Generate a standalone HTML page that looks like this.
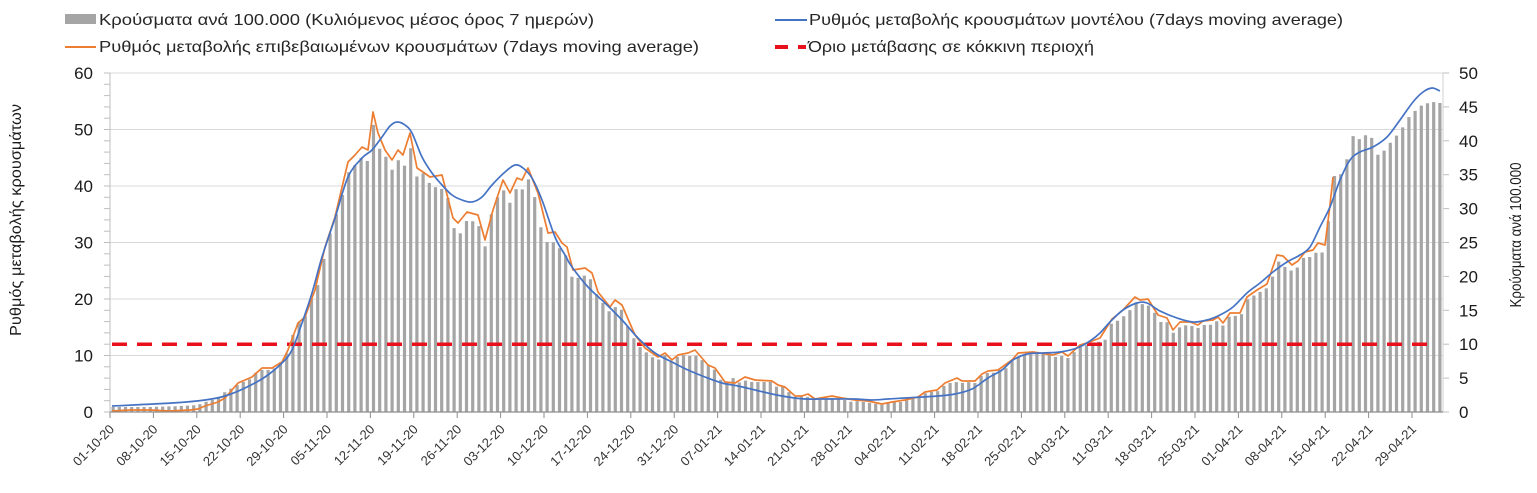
<!DOCTYPE html>
<html>
<head>
<meta charset="utf-8">
<style>
  html,body{margin:0;padding:0;background:#fff;}
  svg{display:block;}
  text{font-family:"Liberation Sans","DejaVu Sans",sans-serif;}
</style>
</head>
<body>
<svg id="chart" width="1537" height="493" viewBox="0 0 1537 493" xmlns="http://www.w3.org/2000/svg">
  <rect x="0" y="0" width="1537" height="493" fill="#ffffff"/>

  <!-- Legend -->
  <rect x="65" y="14" width="31" height="10" fill="#a5a5a5"/>
  <text x="99" y="25" font-size="16" fill="#262626" textLength="495" lengthAdjust="spacingAndGlyphs">Κρούσματα ανά 100.000 (Κυλιόμενος μέσος όρος 7 ημερών)</text>
  <line x1="65" y1="47" x2="96" y2="47" stroke="#ed7d31" stroke-width="2"/>
  <text x="99" y="52" font-size="16" fill="#262626" textLength="600" lengthAdjust="spacingAndGlyphs">Ρυθμός μεταβολής επιβεβαιωμένων κρουσμάτων (7days moving average)</text>
  <line x1="775" y1="20" x2="807" y2="20" stroke="#4472c4" stroke-width="2"/>
  <text x="809" y="25" font-size="16" fill="#262626" textLength="534" lengthAdjust="spacingAndGlyphs">Ρυθμός μεταβολής κρουσμάτων μοντέλου (7days moving average)</text>
  <line x1="775" y1="47" x2="788" y2="47" stroke="#e8101a" stroke-width="4"/>
  <line x1="798" y1="47" x2="806" y2="47" stroke="#e8101a" stroke-width="4"/>
  <text x="808" y="52" font-size="16" fill="#262626" textLength="286" lengthAdjust="spacingAndGlyphs">Όριο μετάβασης σε κόκκινη περιοχή</text>

  <!-- gridlines -->
  <g stroke="#d9d9d9" stroke-width="1">
    <line x1="110" y1="73" x2="1443" y2="73"/>
    <line x1="110" y1="129.5" x2="1443" y2="129.5"/>
    <line x1="110" y1="186" x2="1443" y2="186"/>
    <line x1="110" y1="242.5" x2="1443" y2="242.5"/>
    <line x1="110" y1="299" x2="1443" y2="299"/>
    <line x1="110" y1="355.5" x2="1443" y2="355.5"/>
  </g>

  <g id="ticks" stroke="#bfbfbf" stroke-width="1"></g>
  <line x1="110" y1="73" x2="110" y2="412" stroke="#bfbfbf" stroke-width="1"/>
  <line x1="1443" y1="73" x2="1443" y2="412" stroke="#d0d0d0" stroke-width="1"/>

  <path id="bars" fill="#a5a5a5" d=""/>

  <line x1="112" y1="344.2" x2="1432" y2="344.2" stroke="#e8101a" stroke-width="3.5" stroke-dasharray="15 10"/>

  <polyline id="orange" fill="none" stroke="#ed7d31" stroke-width="1.7" stroke-linejoin="round" points=""/>
  <path id="blue" fill="none" stroke="#4472c4" stroke-width="1.7" d=""/>

  <!-- bottom axis -->
  <line x1="110" y1="412" x2="1443" y2="412" stroke="#8c8c8c" stroke-width="1.2"/>

  <!-- left axis labels -->
  <g font-size="17" fill="#1a1a1a" text-anchor="end">
    <text x="93" y="418">0</text>
    <text x="93" y="361.5">10</text>
    <text x="93" y="305">20</text>
    <text x="93" y="248.5">30</text>
    <text x="93" y="192">40</text>
    <text x="93" y="135.5">50</text>
    <text x="93" y="79">60</text>
  </g>
  <!-- right axis labels -->
  <g font-size="17" fill="#1a1a1a" text-anchor="start">
    <text x="1459" y="418">0</text>
    <text x="1459" y="384.1">5</text>
    <text x="1459" y="350.2">10</text>
    <text x="1459" y="316.3">15</text>
    <text x="1459" y="282.4">20</text>
    <text x="1459" y="248.5">25</text>
    <text x="1459" y="214.6">30</text>
    <text x="1459" y="180.7">35</text>
    <text x="1459" y="146.8">40</text>
    <text x="1459" y="112.9">45</text>
    <text x="1459" y="79">50</text>
  </g>

  <!-- axis titles -->
  <text transform="translate(21,220) rotate(-90)" text-anchor="middle" font-size="16" fill="#1a1a1a" textLength="232" lengthAdjust="spacingAndGlyphs">Ρυθμός μεταβολής κρουσμάτων</text>
  <text transform="translate(1521,235) rotate(-90)" text-anchor="middle" font-size="16" fill="#1a1a1a" textLength="145" lengthAdjust="spacingAndGlyphs">Κρούσματα ανά 100.000</text>

  <!-- date labels -->
  <g font-size="13" fill="#333333" text-anchor="end">
    <text transform="translate(115,430) rotate(-45)">01-10-20</text>
    <text transform="translate(158.4,430) rotate(-45)">08-10-20</text>
    <text transform="translate(201.8,430) rotate(-45)">15-10-20</text>
    <text transform="translate(245.2,430) rotate(-45)">22-10-20</text>
    <text transform="translate(288.6,430) rotate(-45)">29-10-20</text>
    <text transform="translate(332,430) rotate(-45)">05-11-20</text>
    <text transform="translate(375.4,430) rotate(-45)">12-11-20</text>
    <text transform="translate(418.8,430) rotate(-45)">19-11-20</text>
    <text transform="translate(462.2,430) rotate(-45)">26-11-20</text>
    <text transform="translate(505.6,430) rotate(-45)">03-12-20</text>
    <text transform="translate(549,430) rotate(-45)">10-12-20</text>
    <text transform="translate(592.4,430) rotate(-45)">17-12-20</text>
    <text transform="translate(635.8,430) rotate(-45)">24-12-20</text>
    <text transform="translate(679.2,430) rotate(-45)">31-12-20</text>
    <text transform="translate(722.6,430) rotate(-45)">07-01-21</text>
    <text transform="translate(766,430) rotate(-45)">14-01-21</text>
    <text transform="translate(809.4,430) rotate(-45)">21-01-21</text>
    <text transform="translate(852.8,430) rotate(-45)">28-01-21</text>
    <text transform="translate(896.2,430) rotate(-45)">04-02-21</text>
    <text transform="translate(939.6,430) rotate(-45)">11-02-21</text>
    <text transform="translate(983,430) rotate(-45)">18-02-21</text>
    <text transform="translate(1026.4,430) rotate(-45)">25-02-21</text>
    <text transform="translate(1069.8,430) rotate(-45)">04-03-21</text>
    <text transform="translate(1113.2,430) rotate(-45)">11-03-21</text>
    <text transform="translate(1156.6,430) rotate(-45)">18-03-21</text>
    <text transform="translate(1200,430) rotate(-45)">25-03-21</text>
    <text transform="translate(1243.4,430) rotate(-45)">01-04-21</text>
    <text transform="translate(1286.8,430) rotate(-45)">08-04-21</text>
    <text transform="translate(1330.2,430) rotate(-45)">15-04-21</text>
    <text transform="translate(1373.6,430) rotate(-45)">22-04-21</text>
    <text transform="translate(1417,430) rotate(-45)">29-04-21</text>
  </g>
</svg>
<script>
(function(){
  var NS="http://www.w3.org/2000/svg";
  var bars=[[113,407],[150,407],[180,406],[198,405],[205,402],[212,400],[218,398],[225,392],[232,388],[237,385],[243,382],[250,379],[255,373],[262,370],[268,370],[275,368],[280,363],[287,353],[292,337],[298,323],[305,317],[310,302],[317,288],[323,263],[328,240],[335,218],[342,197],[348,173],[355,165],[362,157],[367,163],[373,123],[380,150],[387,158],[392,170],[398,160],[405,166],[410,145],[417,177],[423,173],[430,184],[435,187],[442,189],[448,198],[453,227],[460,234],[467,220],[472,221],[478,223],[485,247],[490,218],[497,198],[503,189],[510,203],[517,187],[522,190],[528,178],[535,198],[540,225],[547,242],[553,242],[558,247],[565,253],[572,277],[578,278],[583,275],[590,278],[597,295],[603,303],[608,312],[615,307],[622,310],[627,325],[633,337],[640,347],[647,353],[652,357],[658,360],[665,355],[672,363],[677,357],[683,355],[690,356],[695,355],[702,360],[708,365],[715,370],[722,382],[727,383],[733,378],[740,383],[747,380],[752,382],[758,382],[765,382],[771,382],[777,387],[783,387],[790,393],[795,397],[802,396],[808,397],[815,400],[822,400],[827,398],[833,398],[840,399],[845,400],[852,402],[858,401],[863,402],[870,403],[877,404],[883,405],[888,403],[895,402],[902,402],[908,400],[913,399],[920,397],[927,392],[932,392],[938,391],[945,385],[950,383],[957,382],[962,383],[968,382],[975,383],[982,375],[987,373],[993,373],[1000,370],[1007,368],[1013,360],[1018,357],[1025,355],[1032,354],[1037,353],[1043,354],[1050,355],[1055,357],[1062,356],[1068,358],[1073,353],[1080,347],[1087,345],[1093,343],[1098,342],[1105,340],[1112,322],[1117,321],[1123,317],[1130,310],[1135,302],[1142,304],[1148,305],[1155,313],[1160,322],[1167,322],[1173,333],[1180,327],[1187,325],[1192,326],[1198,328],[1203,325],[1210,325],[1217,321],[1222,327],[1228,317],[1235,316],[1242,314],[1247,300],[1253,296],[1260,292],[1267,288],[1272,278],[1278,261],[1285,267],[1292,271],[1298,267],[1303,258],[1310,257],[1317,252],[1322,253],[1328,224],[1333,176],[1340,176],[1347,159],[1353,136],[1358,140],[1365,135],[1372,138],[1378,155],[1385,150],[1390,143],[1397,135],[1403,127],[1408,118],[1415,111],[1422,105],[1428,103],[1433,102],[1440,103]];
  var orange=[[112,411],[130,410],[150,410],[170,411],[190,410],[198,409],[205,406],[218,402],[225,398],[238,383],[245,380],[252,377],[262,368],[272,368],[282,362],[288,350],[298,323],[305,317],[315,290],[325,247],[335,217],[348,162],[355,155],[362,147],[368,150],[373,112],[378,133],[385,150],[392,160],[398,150],[403,155],[410,133],[417,168],[423,172],[430,177],[442,175],[453,218],[458,223],[467,212],[478,215],[485,240],[493,210],[503,180],[510,193],[517,178],[522,180],[528,168],[538,193],[548,233],[555,232],[562,243],[567,247],[573,270],[585,268],[592,273],[598,292],[610,307],[615,300],[622,305],[635,335],[645,348],[658,357],[665,353],[672,360],[678,355],[688,353],[695,350],[708,365],[715,368],[725,382],[735,383],[745,377],[755,380],[772,381],[778,385],[785,387],[795,396],[802,396],[808,394],[815,399],[832,396],[842,398],[855,400],[868,401],[882,404],[892,402],[905,400],[918,397],[925,392],[937,390],[945,383],[957,378],[962,381],[975,381],[982,374],[988,371],[998,370],[1012,360],[1018,353],[1033,352],[1053,355],[1062,352],[1068,356],[1080,345],[1087,343],[1100,338],[1112,319],[1123,310],[1135,297],[1140,300],[1148,299],[1158,315],[1167,318],[1173,330],[1180,322],[1190,322],[1198,325],[1203,321],[1213,320],[1218,317],[1223,323],[1230,313],[1240,313],[1247,297],[1257,290],[1267,284],[1277,255],[1283,256],[1292,265],[1298,261],[1305,252],[1313,250],[1318,243],[1325,245],[1330,205],[1333,177]];
  var blue=[[112,406],[172,403],[205,400],[225,396],[245,388],[265,377],[282,363],[292,350],[302,323],[312,293],[322,257],[335,218],[348,177],[362,158],[372,150],[382,137],[390,126],[397,122],[405,125],[412,133],[422,157],[432,173],[442,185],[452,195],[462,200],[472,202],[482,197],[492,185],[505,172],[515,165],[523,168],[532,178],[542,200],[555,237],[565,255],[572,267],[588,287],[605,303],[622,320],[638,338],[655,353],[672,362],[688,370],[705,377],[722,383],[738,386],[755,390],[772,394],[788,397],[805,399],[822,399],[855,399],[872,400],[888,399],[905,398],[922,397],[938,396],[955,394],[972,389],[988,378],[1002,370],[1013,360],[1027,354],[1043,353],[1060,352],[1077,348],[1090,341],[1100,333],[1110,322],[1123,310],[1137,303],[1147,303],[1160,311],[1177,318],[1193,322],[1207,320],[1220,315],[1233,307],[1247,293],[1260,283],[1273,272],[1287,262],[1300,255],[1310,247],[1320,227],[1330,207],[1340,180],[1350,160],[1360,152],[1373,147],[1387,137],[1400,120],[1413,102],[1423,92],[1432,88],[1440,91]];

  function interp(kn,x){
    if(x<=kn[0][0]) return kn[0][1];
    for(var i=1;i<kn.length;i++){
      if(x<=kn[i][0]){var a=kn[i-1],b=kn[i];return a[1]+(b[1]-a[1])*(x-a[0])/(b[0]-a[0]);}
    }
    return kn[kn.length-1][1];
  }
  var d="";
  for(var i=0;i<215;i++){
    var cx=110+(i+0.5)*6.2;
    var y=interp(bars,cx);
    d+="M"+(cx-1.6).toFixed(2)+" 412V"+y.toFixed(1)+"h3.2V412z";
  }
  document.getElementById("bars").setAttribute("d",d);

  document.getElementById("orange").setAttribute("points",orange.map(function(p){return p[0]+","+p[1];}).join(" "));

  function cr(p){
    var s="M"+p[0][0]+" "+p[0][1];
    for(var i=0;i<p.length-1;i++){
      var p0=p[i-1]||p[i],p1=p[i],p2=p[i+1],p3=p[i+2]||p2;
      var c1x=p1[0]+(p2[0]-p0[0])/6,c1y=p1[1]+(p2[1]-p0[1])/6;
      var c2x=p2[0]-(p3[0]-p1[0])/6,c2y=p2[1]-(p3[1]-p1[1])/6;
      s+="C"+c1x.toFixed(2)+" "+c1y.toFixed(2)+" "+c2x.toFixed(2)+" "+c2y.toFixed(2)+" "+p2[0]+" "+p2[1];
    }
    return s;
  }
  document.getElementById("blue").setAttribute("d",cr(blue));

  var tg=document.getElementById("ticks");
  function ln(x1,y1,x2,y2,c){var l=document.createElementNS(NS,"line");l.setAttribute("x1",x1);l.setAttribute("y1",y1);l.setAttribute("x2",x2);l.setAttribute("y2",y2);if(c)l.setAttribute("stroke",c);tg.appendChild(l);}
  for(var j=0;j<=30;j++){var yy=412-11.3*j;ln(104,yy,110,yy);}
  for(var k=0;k<=10;k++){var yr=412-33.9*k;ln(1443,yr,1449,yr);}
  for(var t=0;t<=30;t++){var xt=110+43.4*t;ln(xt,412,xt,418,"#8c8c8c");}
})();
</script>
</body>
</html>
